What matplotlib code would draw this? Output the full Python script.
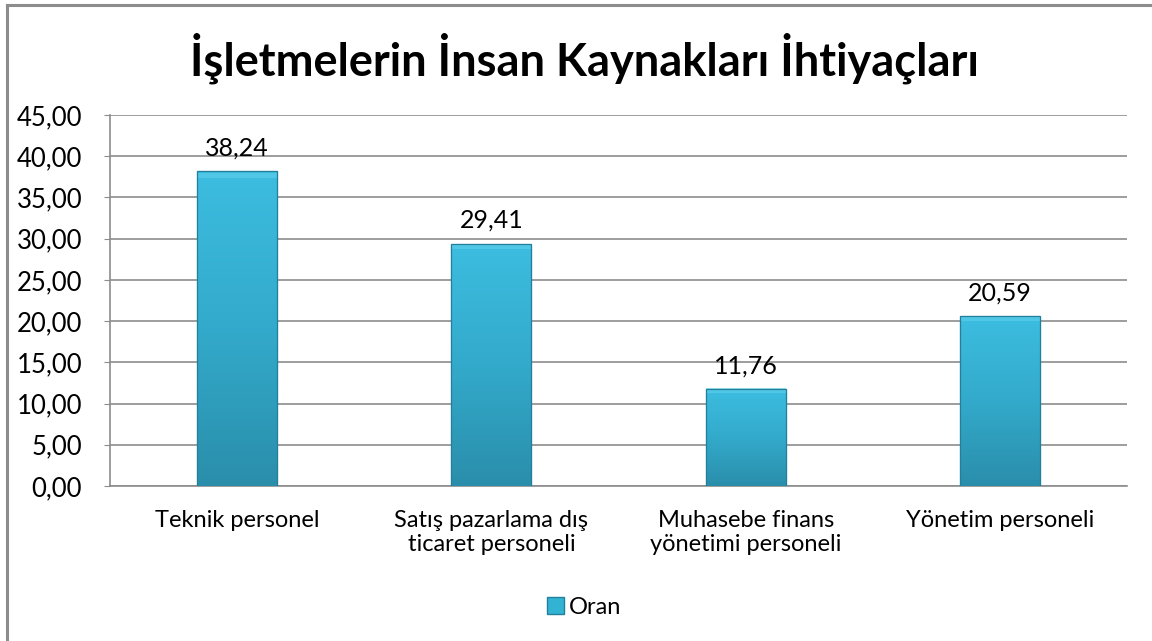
import numpy as np
import matplotlib.pyplot as plt
from matplotlib.patches import Rectangle
from matplotlib.colors import LinearSegmentedColormap
from matplotlib.ticker import FuncFormatter

plt.rcParams['font.family'] = ['Lato', 'DejaVu Sans']

categories = ['Teknik personel', 'Satış pazarlama dış\nticaret personeli',
              'Muhasebe finans\nyönetimi personeli', 'Yönetim personeli']
values = [38.24, 29.41, 11.76, 20.59]
labels = ['38,24', '29,41', '11,76', '20,59']
series_name = 'Oran'

fig = plt.figure(figsize=(11.52, 6.41), dpi=100)
fig.patch.set_facecolor('white')

# outer chart border (right/bottom cut off in the reference)
fig.add_artist(plt.Line2D([6.5 / 1152, 6.5 / 1152], [0, 1 - 4.5 / 641],
                          color='#8c8c8c', lw=2.2, transform=fig.transFigure))
fig.add_artist(plt.Line2D([6.5 / 1152, 1], [1 - 4.5 / 641, 1 - 4.5 / 641],
                          color='#8c8c8c', lw=2.2, transform=fig.transFigure))

ax = fig.add_axes([110 / 1152, 1 - 486 / 641, 1017 / 1152, (486 - 115) / 641])

x = np.arange(len(categories))
bars = ax.bar(x, values, width=0.315, color='#33b3d4', edgecolor='#2a8fab',
              linewidth=0.8, zorder=3)

cmap = LinearSegmentedColormap.from_list('bev', ['#2a8eab', '#33aacb', '#3cbde0'])
grad = np.linspace(0, 1, 256).reshape(-1, 1)
for b in bars:
    x0, w, h = b.get_x(), b.get_width(), b.get_height()
    im = ax.imshow(grad, extent=[x0, x0 + w, 0, h], origin='lower', cmap=cmap,
                   aspect='auto', zorder=3.5)
    im.set_clip_path(b)
    # bevel at top
    ax.add_patch(Rectangle((x0, h * 0.985 - 0.25), w, 0.5, facecolor='#5fd0ee',
                           edgecolor='none', zorder=3.6, alpha=0.6))
    ax.add_patch(Rectangle((x0, 0), w, h, facecolor='none', edgecolor='#23809b',
                           linewidth=0.9, zorder=3.7))

for xi, v, lab in zip(x, values, labels):
    ax.text(xi, v + 1.4, lab, ha='center', va='bottom', fontsize=18, color='black')

ax.set_xlim(-0.5, len(categories) - 0.5)
ax.set_ylim(0, 45)
ax.set_yticks(np.arange(0, 46, 5))
ax.yaxis.set_major_formatter(FuncFormatter(lambda v, p: f'{v:.2f}'.replace('.', ',')))
ax.set_xticks(x)
ax.set_xticklabels(categories, fontsize=17, linespacing=1.2)
ax.tick_params(axis='y', labelsize=18.5, length=4, color='#8c8c8c', pad=16)
ax.tick_params(axis='x', length=0, pad=17)
ax.grid(axis='y', color='#8c8c8c', linewidth=1.2, zorder=0)
for s in ['top', 'right']:
    ax.spines[s].set_visible(False)
for s in ['left', 'bottom']:
    ax.spines[s].set_color('#8c8c8c')
    ax.spines[s].set_linewidth(1.2)

fig.text(0.507, 1 - 58 / 641, 'İşletmelerin İnsan Kaynakları İhtiyaçları',
         ha='center', va='center', fontsize=32.5, fontweight='bold')

handle = Rectangle((0, 0), 1, 1, facecolor='#33b3d4', edgecolor='#23809b')
fig.legend([handle], [series_name], loc='center', bbox_to_anchor=(0.507, 1 - 607 / 641),
           frameon=False, fontsize=17, handlelength=0.7, handleheight=0.7,
           handletextpad=0.2)

fig.savefig('out.png', dpi=100)
